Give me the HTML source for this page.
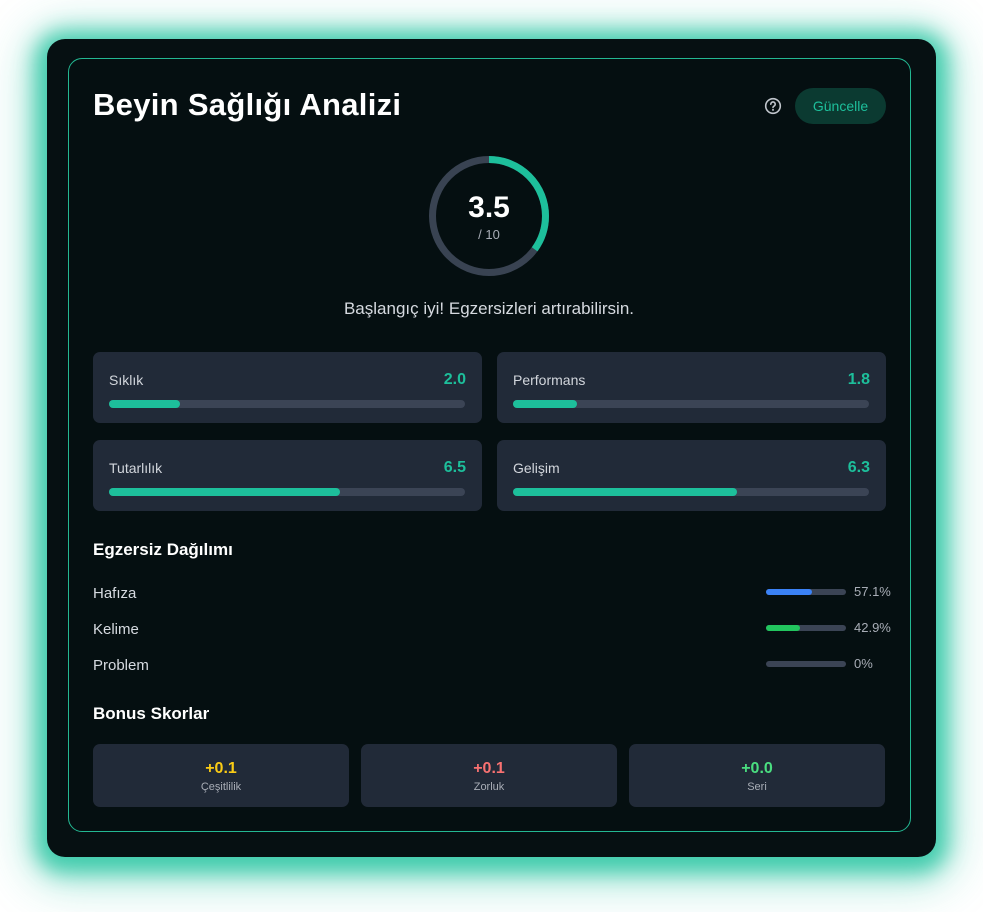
<!DOCTYPE html>
<html><head><meta charset="utf-8">
<style>
*{box-sizing:border-box;margin:0;padding:0}
body{width:983px;height:912px;background:#fff;font-family:"Liberation Sans",sans-serif;position:relative;overflow:hidden}
.outer{position:absolute;left:47px;top:39px;width:889px;height:818px;border-radius:18px;background:#061012;box-shadow:0 4px 20px 12px rgba(38,196,160,0.8),0 8px 44px 20px rgba(38,196,160,0.35)}
.inner{position:absolute;left:68px;top:58px;width:843px;height:774px;border:1px solid #23b892;border-radius:14px;background:#050f11}
.abs{position:absolute}
.card{position:absolute;background:#212a38;border-radius:7px}
.lbl{position:absolute;color:#d2d6dc;font-size:14px}
.val{position:absolute;color:#1dbf9b;font-size:16px;font-weight:bold}
.track{position:absolute;height:8px;border-radius:4px;background:#3b4455}
.fill{position:absolute;left:0;top:0;height:100%;border-radius:4px;background:#1dbf9b}
.dl{position:absolute;left:93px;color:#d6dae0;font-size:15px}
.dt{position:absolute;left:766px;width:80px;height:6px;border-radius:3px;background:#3b4455}
.dp{position:absolute;left:854px;color:#a8adb6;font-size:13px}
.bn{position:absolute;width:100%;text-align:center;top:16px;font-size:16px;font-weight:bold}
.bl{position:absolute;width:100%;text-align:center;top:37px;font-size:11px;color:#a8adb6}
</style></head><body>
<div class="outer"></div>
<div class="inner"></div>
<div class="abs" style="left:93px;top:87px;color:#fff;font-size:31px;font-weight:bold;letter-spacing:0.3px">Beyin Sağlığı Analizi</div>
<svg class="abs" style="left:764px;top:97px" width="18" height="18" viewBox="0 0 18 18"><circle cx="9" cy="9" r="7.3" fill="none" stroke="#c0c5cc" stroke-width="1.6"/><path d="M6.8 7.2a2.2 2.2 0 1 1 3 2c-.6.3-.8.7-.8 1.3" fill="none" stroke="#c0c5cc" stroke-width="1.6" stroke-linecap="round"/><circle cx="9" cy="12.9" r="1" fill="#c0c5cc"/></svg>
<div class="abs" style="left:795px;top:88px;width:91px;height:36px;border-radius:18px;background:#0b3a31;color:#1dbf9b;font-size:14px;line-height:36px;text-align:center">Güncelle</div>
<svg class="abs" style="left:424px;top:151px" width="130" height="130" viewBox="0 0 130 130">
<circle cx="65" cy="65" r="56.5" fill="none" stroke="#394352" stroke-width="7"/>
<circle id="arc" cx="65" cy="65" r="56.5" fill="none" stroke="#1dbf9b" stroke-width="7" transform="rotate(-90 65 65)"/>
<text x="65" y="66" text-anchor="middle" fill="#fff" font-size="30" font-weight="bold" font-family="Liberation Sans, sans-serif">3.5</text>
<text x="65" y="88" text-anchor="middle" fill="#a8adb6" font-size="13" font-family="Liberation Sans, sans-serif">/ 10</text>
</svg>
<div class="abs" style="left:0;width:978px;top:299px;text-align:center;color:#d6dae0;font-size:17px">Başlangıç iyi! Egzersizleri artırabilirsin.</div>
<div id="metrics"></div>
<div class="abs" style="left:93px;top:540px;color:#fff;font-size:17px;font-weight:bold">Egzersiz Dağılımı</div>
<div id="dist"></div>
<div class="abs" style="left:93px;top:704px;color:#fff;font-size:17px;font-weight:bold">Bonus Skorlar</div>
<div id="bonus"></div>
<script>
const score=3.5;
const metricNames=["Sıklık","Performans","Tutarlılık","Gelişim"];
const metricValues=[2.0,1.8,6.5,6.3];
const distNames=["Hafıza","Kelime","Problem"];
const distValues=[57.1,42.9,0];
const distLabels=["57.1%","42.9%","0%"];
const bonusNames=["Çeşitlilik","Zorluk","Seri"];
const bonusValues=[0.1,0.1,0.0];

const C=2*Math.PI*56.5;
const arc=document.getElementById('arc');
arc.setAttribute('stroke-dasharray',(C*score/10)+' '+C);

const m=document.getElementById('metrics');
metricNames.forEach((n,i)=>{
  const x=i%2?497:93, y=i<2?352:440;
  const c=document.createElement('div');c.className='card';
  
  
  c.style.cssText=`left:${x}px;top:${y}px;width:389px;height:71px`;
  c.innerHTML=`<div class="lbl" style="left:16px;top:20px">${n}</div><div class="val" style="right:16px;top:19px">${metricValues[i].toFixed(1)}</div><div class="track" style="left:16px;top:48px;width:356px"><div class="fill" style="width:${metricValues[i]*10}%"></div></div>`;
  m.appendChild(c);
});
const d=document.getElementById('dist');
const cols=["#3b82f6","#22c55e","#a855f7"];
distNames.forEach((n,i)=>{
  const y=585+i*36;
  const l=document.createElement('div');l.className='dl';l.style.top=y+'px';l.textContent=n;
  
  
  d.appendChild(l);
  const t=document.createElement('div');t.className='dt';t.style.top=(y+4)+'px';
  
  
  t.innerHTML=`<div style="height:100%;border-radius:3px;background:${cols[i]};width:${distValues[i]}%"></div>`;
  d.appendChild(t);
  const p=document.createElement('div');p.className='dp';p.style.top=(y-1)+'px';p.textContent=distLabels[i];
  
  
  d.appendChild(p);
});
const b=document.getElementById('bonus');
const bc=["#facc15","#f87171","#4ade80"];
bonusNames.forEach((n,i)=>{
  const c=document.createElement('div');c.className='card';
  
  
  c.style.cssText=`left:${93+i*268}px;top:744px;width:256px;height:63px`;
  c.innerHTML=`<div class="bn" style="color:${bc[i]}">+${bonusValues[i].toFixed(1)}</div><div class="bl">${n}</div>`;
  b.appendChild(c);
});
</script>
</body></html>
